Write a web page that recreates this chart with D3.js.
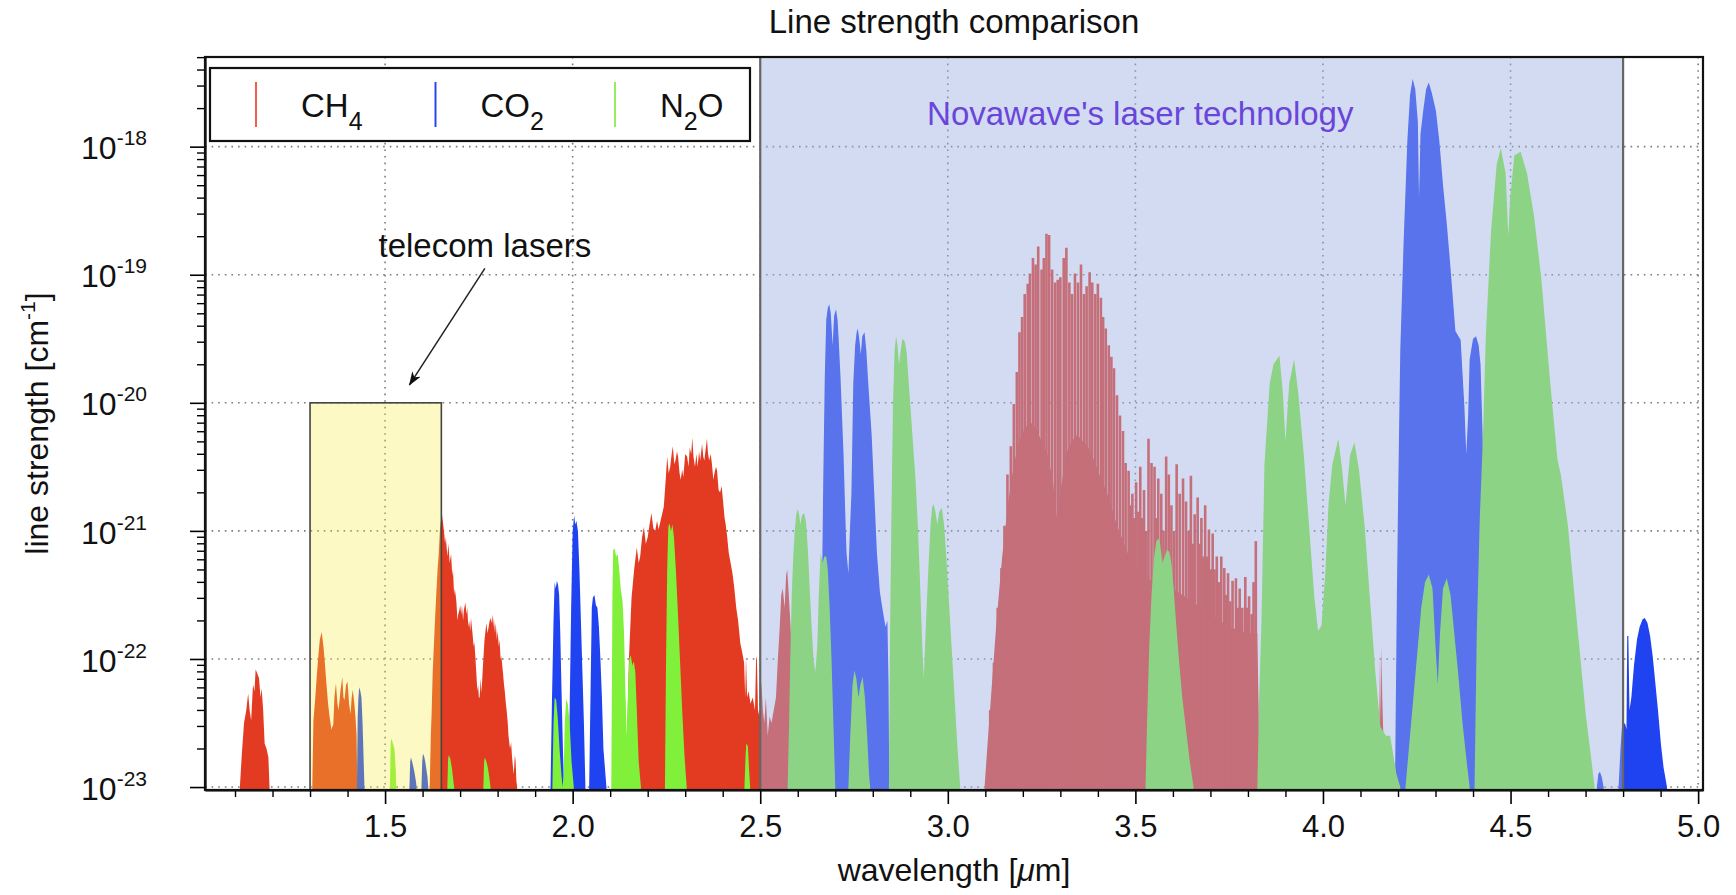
<!DOCTYPE html>
<html>
<head>
<meta charset="utf-8">
<script src="https://cdn.jsdelivr.net/npm/d3@7"></script>
<style>
  body { margin: 0; background: #fff; }
  text { font-family: "Liberation Sans", Arial, Helvetica, sans-serif; fill: #111; }
</style>
</head>
<body>
<svg id="chart" width="1736" height="895"></svg>
<script>
// ---- axis values ----
const xMajor = [1.5, 2.0, 2.5, 3.0, 3.5, 4.0, 4.5, 5.0];
const yDecades = [-23, -22, -21, -20, -19, -18];

// ---- bands: [wavelength (um), log10 line strength (cm^-1)] ----
// CH4
const ch4_113 = [[1.113,-23],[1.118,-22.75],[1.124,-22.5],[1.13,-22.4],[1.135,-22.27],[1.139,-22.4],[1.143,-22.48],[1.148,-22.2],[1.152,-22.25],[1.155,-22.08],[1.16,-22.12],[1.164,-22.15],[1.168,-22.3],[1.171,-22.23],[1.175,-22.4],[1.179,-22.66],[1.184,-22.7],[1.189,-22.77],[1.192,-23]];
const ch4_133 = [[1.306,-23],[1.309,-22.48],[1.314,-22.3],[1.319,-22.09],[1.323,-21.95],[1.326,-21.85],[1.331,-21.79],[1.336,-21.91],[1.34,-22.05],[1.343,-22.17],[1.348,-22.35],[1.352,-22.45],[1.357,-22.55],[1.362,-22.51],[1.365,-22.3],[1.369,-22.19],[1.373,-22.35],[1.376,-22.4],[1.381,-22.25],[1.386,-22.14],[1.389,-22.3],[1.392,-22.32],[1.396,-22.2],[1.4,-22.18],[1.404,-22.35],[1.408,-22.43],[1.411,-22.3],[1.414,-22.24],[1.418,-22.35],[1.421,-22.45],[1.424,-22.6],[1.426,-23]];
const ch4_165 = [[1.619,-23],[1.622,-22.6],[1.624,-22.43],[1.627,-22.1],[1.63,-21.9],[1.633,-21.7],[1.636,-21.52],[1.64,-21.3],[1.643,-21.18],[1.646,-21.0],[1.648,-20.94],[1.65,-20.9],[1.652,-20.88],[1.655,-20.95],[1.657,-21.0],[1.66,-21.1],[1.662,-21.05],[1.666,-21.2],[1.669,-21.1],[1.672,-21.25],[1.676,-21.18],[1.679,-21.35],[1.681,-21.3],[1.684,-21.5],[1.686,-21.45],[1.69,-21.55],[1.693,-21.7],[1.695,-21.65],[1.698,-21.62],[1.7,-21.58],[1.703,-21.65],[1.705,-21.58],[1.708,-21.7],[1.71,-21.62],[1.714,-21.56],[1.717,-21.65],[1.719,-21.6],[1.722,-21.75],[1.724,-21.7],[1.727,-21.78],[1.729,-21.68],[1.733,-21.8],[1.736,-21.9],[1.738,-21.87],[1.741,-22.0],[1.743,-22.1],[1.746,-22.25],[1.748,-22.2],[1.75,-22.3],[1.752,-22.3],[1.755,-22.15],[1.757,-22.27],[1.76,-22.1],[1.762,-22.0],[1.765,-21.85],[1.767,-21.8],[1.77,-21.72],[1.773,-21.8],[1.776,-21.75],[1.779,-21.7],[1.781,-21.68],[1.784,-21.72],[1.786,-21.65],[1.788,-21.75],[1.79,-21.68],[1.793,-21.8],[1.795,-21.72],[1.798,-21.85],[1.8,-21.78],[1.803,-21.9],[1.805,-21.85],[1.808,-22.0],[1.81,-21.98],[1.814,-22.1],[1.817,-22.2],[1.819,-22.25],[1.822,-22.35],[1.824,-22.4],[1.827,-22.5],[1.829,-22.6],[1.833,-22.7],[1.836,-22.65],[1.838,-22.75],[1.841,-22.85],[1.843,-22.9],[1.846,-22.75],[1.848,-22.8],[1.85,-22.95],[1.852,-23]];
const ch4_230 = [[2.138,-23],[2.141,-22.3],[2.143,-22.9],[2.15,-22.0],[2.157,-21.52],[2.164,-21.3],[2.171,-21.13],[2.176,-21.25],[2.18,-21.2],[2.185,-21.05],[2.19,-20.97],[2.195,-21.1],[2.2,-21.05],[2.205,-20.95],[2.21,-20.86],[2.215,-20.98],[2.22,-21.0],[2.225,-20.92],[2.229,-20.99],[2.236,-20.9],[2.243,-20.81],[2.248,-20.6],[2.252,-20.42],[2.256,-20.55],[2.26,-20.5],[2.264,-20.4],[2.267,-20.34],[2.271,-20.48],[2.274,-20.45],[2.278,-20.38],[2.281,-20.42],[2.285,-20.55],[2.288,-20.6],[2.292,-20.52],[2.295,-20.58],[2.3,-20.4],[2.305,-20.42],[2.309,-20.5],[2.312,-20.35],[2.316,-20.4],[2.319,-20.27],[2.322,-20.42],[2.326,-20.5],[2.33,-20.4],[2.333,-20.5],[2.337,-20.38],[2.34,-20.45],[2.345,-20.32],[2.348,-20.42],[2.351,-20.45],[2.355,-20.35],[2.358,-20.28],[2.361,-20.4],[2.364,-20.45],[2.368,-20.4],[2.371,-20.47],[2.375,-20.6],[2.378,-20.55],[2.382,-20.5],[2.385,-20.53],[2.389,-20.68],[2.393,-20.7],[2.397,-20.65],[2.401,-20.77],[2.405,-20.9],[2.408,-20.95],[2.412,-21.05],[2.416,-21.17],[2.421,-21.25],[2.426,-21.33],[2.431,-21.45],[2.436,-21.6],[2.441,-21.7],[2.447,-21.88],[2.452,-21.95],[2.457,-22.03],[2.46,-22.3],[2.462,-21.98],[2.465,-22.3],[2.469,-22.25],[2.474,-22.35],[2.48,-22.3],[2.486,-22.4],[2.489,-22.0],[2.491,-21.98],[2.494,-22.4],[2.498,-22.45],[2.503,-22.18],[2.507,-22.4],[2.511,-22.5],[2.515,-22.3],[2.52,-22.6],[2.525,-22.45],[2.53,-22.5],[2.536,-22.4],[2.542,-22.3],[2.547,-22.0],[2.552,-21.75],[2.556,-21.5],[2.56,-21.45],[2.565,-21.6],[2.569,-21.35],[2.572,-21.3],[2.576,-21.5],[2.58,-21.7],[2.585,-22.0],[2.59,-22.6],[2.595,-23]];
const ch4_330_base = [[3.098,-23],[3.105,-22.7],[3.115,-22.3],[3.13,-21.7],[3.145,-21.2],[3.16,-20.8],[3.175,-20.5],[3.19,-20.3],[3.205,-20.2],[3.22,-20.15],[3.235,-20.2],[3.25,-20.3],[3.265,-20.4],[3.28,-20.6],[3.29,-20.9],[3.3,-20.7],[3.315,-20.4],[3.33,-20.3],[3.345,-20.25],[3.36,-20.3],[3.375,-20.35],[3.39,-20.45],[3.41,-20.6],[3.43,-20.75],[3.45,-20.95],[3.47,-21.1],[3.49,-21.25],[3.52,-21.35],[3.55,-21.4],[3.6,-21.45],[3.65,-21.55],[3.7,-21.65],[3.75,-21.75],[3.8,-21.8],[3.825,-21.8],[3.832,-23]];
const ch4_330_lines = [[3.113,-22.4],[3.123,-22.03],[3.133,-21.6],[3.143,-21.29],[3.151,-20.96],[3.159,-20.56],[3.168,-20.34],[3.176,-20.01],[3.184,-19.76],[3.191,-19.45],[3.198,-19.33],[3.205,-19.15],[3.213,-19.07],[3.219,-18.99],[3.227,-18.87],[3.234,-18.92],[3.241,-18.78],[3.25,-18.96],[3.256,-18.87],[3.263,-18.68],[3.27,-18.69],[3.278,-18.96],[3.286,-19.06],[3.293,-19.04],[3.3,-19.02],[3.309,-18.87],[3.316,-18.79],[3.324,-19.06],[3.331,-19.15],[3.339,-18.99],[3.347,-19.06],[3.355,-18.92],[3.363,-19.15],[3.37,-19.09],[3.378,-18.98],[3.385,-19.06],[3.393,-19.15],[3.4,-19.07],[3.408,-19.18],[3.414,-19.33],[3.421,-19.42],[3.429,-19.55],[3.436,-19.64],[3.443,-19.73],[3.451,-19.94],[3.459,-20.1],[3.467,-20.22],[3.474,-20.47],[3.482,-20.53],[3.487,-20.8],[3.492,-20.71],[3.497,-20.9],[3.502,-20.62],[3.508,-20.85],[3.513,-20.5],[3.518,-20.9],[3.523,-20.68],[3.529,-21.0],[3.535,-20.28],[3.543,-20.47],[3.551,-20.5],[3.556,-20.9],[3.561,-20.59],[3.569,-20.71],[3.575,-21.0],[3.582,-20.42],[3.589,-20.56],[3.596,-20.8],[3.603,-21.0],[3.61,-20.48],[3.618,-20.71],[3.627,-20.59],[3.635,-20.77],[3.642,-21.0],[3.648,-20.57],[3.653,-21.1],[3.658,-20.87],[3.666,-20.74],[3.671,-21.1],[3.676,-20.9],[3.681,-21.2],[3.686,-20.8],[3.691,-21.2],[3.696,-20.99],[3.701,-21.3],[3.706,-21.02],[3.711,-21.3],[3.717,-21.2],[3.723,-21.4],[3.729,-21.2],[3.737,-21.29],[3.742,-21.5],[3.747,-21.33],[3.753,-21.55],[3.759,-21.39],[3.768,-21.37],[3.773,-21.6],[3.778,-21.45],[3.785,-21.6],[3.793,-21.36],[3.798,-21.6],[3.803,-21.51],[3.81,-21.65],[3.815,-21.4],[3.821,-21.08]];
const ch4_415 = [[4.148,-23],[4.15,-22.6],[4.152,-21.95],[4.154,-22.5],[4.156,-21.88],[4.158,-22.3],[4.161,-22.6],[4.163,-22.63],[4.165,-23]];

// CO2
const co2_143 = [[1.425,-23],[1.427,-22.45],[1.429,-22.3],[1.431,-22.22],[1.434,-22.25],[1.437,-22.3],[1.44,-22.5],[1.443,-22.8],[1.445,-23]];
const co2_157 = [[1.565,-23],[1.567,-22.8],[1.569,-22.77],[1.572,-22.8],[1.575,-22.84],[1.578,-22.88],[1.582,-22.95],[1.584,-23]];
const co2_160 = [[1.597,-23],[1.599,-22.8],[1.601,-22.74],[1.604,-22.76],[1.607,-22.8],[1.61,-22.86],[1.613,-22.92],[1.615,-23]];
const co2_196 = [[1.941,-23],[1.945,-22.3],[1.949,-21.7],[1.952,-21.4],[1.955,-21.45],[1.958,-21.39],[1.961,-21.42],[1.964,-21.5],[1.967,-21.8],[1.97,-22.2],[1.974,-22.7],[1.977,-23]];
const co2_201 = [[1.988,-23],[1.992,-22.4],[1.996,-21.6],[2.0,-21.0],[2.004,-20.88],[2.007,-20.95],[2.01,-20.92],[2.014,-21.0],[2.018,-21.3],[2.022,-21.7],[2.026,-22.1],[2.03,-22.5],[2.034,-23]];
const co2_206 = [[2.044,-23],[2.048,-22.2],[2.051,-21.6],[2.054,-21.52],[2.058,-21.5],[2.062,-21.58],[2.066,-21.6],[2.07,-21.75],[2.074,-22.0],[2.078,-22.3],[2.082,-22.7],[2.086,-22.85],[2.09,-23]];
const co2_270 = [[2.661,-23],[2.664,-21.6],[2.668,-20.6],[2.672,-19.8],[2.676,-19.35],[2.68,-19.26],[2.684,-19.23],[2.688,-19.3],[2.693,-19.55],[2.697,-19.32],[2.702,-19.27],[2.706,-19.35],[2.709,-19.5],[2.714,-19.8],[2.718,-20.1],[2.722,-20.4],[2.726,-20.8],[2.73,-21.17],[2.735,-21.33],[2.739,-21.0],[2.743,-20.71],[2.748,-19.85],[2.753,-19.55],[2.757,-19.45],[2.76,-19.42],[2.764,-19.5],[2.768,-19.62],[2.772,-19.48],[2.778,-19.45],[2.783,-19.6],[2.788,-19.85],[2.797,-20.25],[2.804,-20.71],[2.811,-21.17],[2.819,-21.48],[2.827,-21.63],[2.834,-21.75],[2.839,-21.7],[2.842,-22.2],[2.844,-23]];
const co2_430 = [[4.192,-23],[4.197,-21.5],[4.201,-20.59],[4.206,-19.6],[4.215,-18.74],[4.225,-17.95],[4.232,-17.6],[4.239,-17.47],[4.246,-17.55],[4.253,-17.81],[4.256,-18.4],[4.26,-17.9],[4.268,-17.7],[4.275,-17.55],[4.282,-17.5],[4.29,-17.58],[4.301,-17.72],[4.31,-17.95],[4.32,-18.3],[4.33,-18.6],[4.339,-18.91],[4.353,-19.44],[4.367,-19.51],[4.377,-20.03],[4.382,-20.4],[4.387,-20.1],[4.391,-19.66],[4.4,-19.5],[4.408,-19.48],[4.415,-19.55],[4.42,-19.7],[4.425,-20.2],[4.432,-21.0],[4.44,-22.0],[4.447,-23]];
const co2_474 = [[4.73,-23],[4.734,-22.9],[4.738,-22.88],[4.743,-22.92],[4.748,-23]];
const co2_485 = [[4.788,-23],[4.793,-22.7],[4.797,-22.53],[4.805,-22.5],[4.809,-22.55],[4.811,-21.82],[4.814,-21.82],[4.817,-22.4],[4.822,-22.3],[4.829,-22.05],[4.837,-21.85],[4.844,-21.75],[4.852,-21.69],[4.858,-21.68],[4.865,-21.72],[4.872,-21.82],[4.879,-21.98],[4.886,-22.19],[4.893,-22.4],[4.901,-22.67],[4.908,-22.85],[4.917,-23]];

// N2O
const n2o_152 = [[1.513,-23],[1.515,-22.65],[1.517,-22.62],[1.521,-22.66],[1.525,-22.7],[1.528,-22.85],[1.53,-23]];
const n2o_167 = [[1.666,-23],[1.668,-22.78],[1.67,-22.75],[1.674,-22.78],[1.678,-22.85],[1.682,-22.95],[1.684,-23]];
const n2o_177 = [[1.762,-23],[1.764,-22.8],[1.766,-22.77],[1.77,-22.8],[1.774,-22.85],[1.778,-22.93],[1.781,-23]];
const n2o_198 = [[1.946,-23],[1.949,-22.5],[1.952,-22.3],[1.956,-22.32],[1.96,-22.45],[1.965,-22.7],[1.97,-22.9],[1.973,-23],[1.976,-22.9],[1.979,-22.5],[1.983,-22.31],[1.987,-22.35],[1.992,-22.5],[1.997,-22.8],[2.003,-23]];
const n2o_211 = [[2.103,-23],[2.106,-21.5],[2.108,-21.15],[2.112,-21.14],[2.116,-21.2],[2.12,-21.18],[2.124,-21.3],[2.128,-21.45],[2.133,-21.55],[2.137,-21.8],[2.141,-22.3],[2.144,-22.6],[2.147,-22.3],[2.151,-22.0],[2.155,-21.97],[2.159,-22.05],[2.163,-22.02],[2.167,-22.1],[2.171,-22.4],[2.176,-22.8],[2.182,-23]];
const n2o_226 = [[2.246,-23],[2.249,-22.0],[2.252,-21.3],[2.255,-20.97],[2.258,-20.94],[2.262,-21.0],[2.266,-20.95],[2.27,-21.05],[2.275,-21.3],[2.28,-21.6],[2.286,-22.0],[2.292,-22.4],[2.298,-22.75],[2.304,-23]];
const n2o_247 = [[2.458,-23],[2.461,-22.75],[2.463,-22.66],[2.467,-22.68],[2.47,-22.85],[2.473,-23]];
const n2o_260 = [[2.573,-23],[2.577,-22.5],[2.58,-22.0],[2.584,-21.5],[2.588,-21.2],[2.592,-21.0],[2.596,-20.87],[2.6,-20.83],[2.604,-20.88],[2.607,-20.95],[2.611,-20.88],[2.617,-20.86],[2.622,-20.93],[2.627,-21.15],[2.632,-21.45],[2.637,-21.75],[2.642,-22.0],[2.647,-22.1],[2.652,-21.9],[2.656,-21.5],[2.661,-21.17],[2.666,-21.25],[2.671,-21.2],[2.676,-21.2],[2.68,-21.3],[2.685,-21.6],[2.69,-22.0],[2.695,-22.5],[2.7,-23]];
const n2o_277 = [[2.735,-23],[2.74,-22.6],[2.746,-22.2],[2.751,-22.09],[2.756,-22.15],[2.762,-22.3],[2.767,-22.2],[2.773,-22.14],[2.779,-22.3],[2.785,-22.6],[2.79,-22.9],[2.793,-23]];
const n2o_287 = [[2.843,-23],[2.846,-21.8],[2.85,-20.8],[2.854,-20.0],[2.858,-19.6],[2.862,-19.48],[2.866,-19.55],[2.87,-19.7],[2.874,-19.6],[2.879,-19.5],[2.885,-19.52],[2.89,-19.6],[2.896,-19.85],[2.902,-20.1],[2.908,-20.35],[2.914,-20.6],[2.92,-20.95],[2.926,-21.4],[2.932,-21.9],[2.936,-22.15],[2.942,-21.7],[2.948,-21.3],[2.954,-20.95],[2.958,-20.82],[2.962,-20.79],[2.967,-20.85],[2.972,-20.95],[2.977,-20.85],[2.984,-20.82],[2.99,-20.95],[2.996,-21.2],[3.002,-21.5],[3.008,-21.8],[3.014,-22.1],[3.02,-22.4],[3.026,-22.7],[3.033,-23]];
const n2o_357 = [[3.527,-23],[3.532,-22.4],[3.537,-21.9],[3.543,-21.5],[3.55,-21.2],[3.556,-21.08],[3.561,-21.06],[3.566,-21.1],[3.572,-21.25],[3.578,-21.2],[3.584,-21.15],[3.59,-21.16],[3.596,-21.25],[3.602,-21.45],[3.608,-21.7],[3.616,-22.0],[3.625,-22.3],[3.635,-22.55],[3.645,-22.8],[3.655,-23]];
const n2o_390 = [[3.825,-23],[3.83,-22.3],[3.836,-21.71],[3.844,-20.48],[3.858,-19.85],[3.868,-19.7],[3.884,-19.63],[3.893,-19.92],[3.9,-20.3],[3.91,-19.85],[3.923,-19.66],[3.934,-19.92],[3.949,-20.41],[3.963,-20.96],[3.977,-21.52],[3.987,-21.78],[3.996,-21.74],[4.006,-21.34],[4.015,-20.78],[4.025,-20.48],[4.041,-20.28],[4.051,-20.52],[4.06,-20.8],[4.072,-20.41],[4.084,-20.31],[4.096,-20.52],[4.111,-20.96],[4.125,-21.52],[4.139,-22.08],[4.153,-22.53],[4.168,-22.6],[4.179,-22.6],[4.196,-22.9],[4.206,-23]];
const n2o_430 = [[4.22,-23],[4.235,-22.5],[4.25,-22.0],[4.262,-21.6],[4.272,-21.4],[4.282,-21.34],[4.292,-21.45],[4.3,-21.9],[4.306,-22.2],[4.312,-21.8],[4.32,-21.45],[4.33,-21.37],[4.34,-21.5],[4.35,-21.8],[4.36,-22.1],[4.372,-22.5],[4.383,-22.8],[4.391,-23]];
const n2o_450 = [[4.404,-23],[4.41,-21.8],[4.418,-20.9],[4.426,-20.3],[4.434,-19.48],[4.448,-18.66],[4.463,-18.14],[4.474,-18.01],[4.487,-18.21],[4.494,-18.7],[4.499,-18.4],[4.51,-18.07],[4.527,-18.04],[4.544,-18.21],[4.563,-18.55],[4.582,-19.03],[4.606,-19.85],[4.625,-20.44],[4.634,-20.56],[4.653,-20.96],[4.677,-21.71],[4.701,-22.45],[4.716,-22.8],[4.724,-23]];

// highlighted wavelength ranges (um)
const telecomRange = [1.3, 1.65];
const telecomTop = -20;
const novawaveRange = [2.5, 4.8];

const species = [
  { label: "CH", sub: "4", tail: "", color: "#e33b22", key: "#f0604a",
    bands: [ch4_113, ch4_133, ch4_165, ch4_230, ch4_330_base, ch4_415], lines: ch4_330_lines },
  { label: "CO", sub: "2", tail: "", color: "#1f43f0", key: "#2a45f0",
    bands: [co2_143, co2_157, co2_160, co2_196, co2_201, co2_206, co2_270, co2_430, co2_474, co2_485], lines: [] },
  { label: "N", sub: "2", tail: "O", color: "#80f03a", key: "#95ee60",
    bands: [n2o_152, n2o_167, n2o_177, n2o_198, n2o_211, n2o_226, n2o_247, n2o_260, n2o_277, n2o_287, n2o_357, n2o_390, n2o_430, n2o_450], lines: [] }
];

// ---- layout ----
const plotL = 205, plotR = 1703, plotT = 57, plotB = 790;
const x = d3.scaleLinear().domain([1.02, 5.013]).range([plotL, plotR]);
const y = d3.scaleLog().domain([10 ** -23.023, 10 ** -17.3]).range([plotB, plotT]);
const S = v => y(10 ** v);

const svg = d3.select("#chart");
const defs = svg.append("defs");

defs.append("clipPath").attr("id", "plotclip")
  .append("rect").attr("x", plotL).attr("y", plotT).attr("width", plotR - plotL).attr("height", plotB - plotT);

// grid
const grid = svg.append("g").attr("stroke", "#7c7c7c").attr("stroke-width", 1.6).attr("stroke-dasharray", "1.6,5");
grid.selectAll(".gy").data(yDecades).join("line").attr("class", "gy")
  .attr("x1", plotL).attr("x2", plotR).attr("y1", d => S(d)).attr("y2", d => S(d));
grid.selectAll(".gx").data(xMajor).join("line").attr("class", "gx")
  .attr("x1", d => x(d)).attr("x2", d => x(d)).attr("y1", plotT).attr("y2", plotB);

// spectra
const area = d3.area().x(d => x(d[0])).y0(plotB).y1(d => S(d[1]));
const spectra = svg.append("g").attr("clip-path", "url(#plotclip)");
species.forEach(sp => {
  const g = spectra.append("g");
  g.selectAll("path").data(sp.bands).join("path")
    .attr("d", area).attr("fill", sp.color);
  g.selectAll("line").data(sp.lines).join("line")
    .attr("x1", d => x(d[0])).attr("x2", d => x(d[0]))
    .attr("y1", plotB).attr("y2", d => S(d[1]))
    .attr("stroke", sp.color).attr("stroke-width", 2.6);
});

// Novawave region
svg.append("rect")
  .attr("x", x(novawaveRange[0])).attr("width", x(novawaveRange[1]) - x(novawaveRange[0]))
  .attr("y", plotT).attr("height", plotB - plotT)
  .attr("fill", "rgb(157,175,228)").attr("fill-opacity", 0.45);
svg.append("g").selectAll("line").data(novawaveRange).join("line")
  .attr("x1", d => x(d)).attr("x2", d => x(d)).attr("y1", plotT).attr("y2", plotB)
  .attr("stroke", "#666").attr("stroke-width", 2.2);

// telecom box
svg.append("rect")
  .attr("x", x(telecomRange[0])).attr("width", x(telecomRange[1]) - x(telecomRange[0]))
  .attr("y", S(telecomTop)).attr("height", plotB - S(telecomTop))
  .attr("fill", "rgb(245,235,60)").attr("fill-opacity", 0.3)
  .attr("stroke", "#444").attr("stroke-width", 1.6);

// axes
const xAxis = svg.append("g").attr("transform", `translate(0,${plotB})`)
  .call(d3.axisBottom(x).tickValues(xMajor).tickFormat(d3.format(".1f")).tickSize(14).tickSizeOuter(0));
xAxis.select(".domain").attr("stroke-width", 2.2);
xAxis.selectAll(".tick line").attr("stroke-width", 1.6);
xAxis.selectAll(".tick text").attr("font-size", 31).attr("y", 25).attr("fill", "#111");

const xMinor = d3.range(11, 50).filter(i => i % 5 !== 0).map(i => i / 10);
svg.append("g").attr("transform", `translate(0,${plotB})`)
  .call(d3.axisBottom(x).tickValues(xMinor).tickFormat("").tickSize(7).tickSizeOuter(0))
  .call(g => g.select(".domain").remove())
  .selectAll(".tick line").attr("stroke-width", 1.4);

const yAxis = svg.append("g").attr("transform", `translate(${plotL},0)`)
  .call(d3.axisLeft(y).tickValues(yDecades.map(d => 10 ** d)).tickSize(15).tickSizeOuter(0));
yAxis.select(".domain").attr("stroke-width", 2.2);
yAxis.selectAll(".tick line").attr("stroke-width", 1.6);
yAxis.selectAll(".tick text")
  .attr("font-size", 32).attr("x", -58).attr("dy", "0.38em").attr("fill", "#111")
  .text(null)
  .each(function (d) {
    const t = d3.select(this);
    t.append("tspan").text("10");
    t.append("tspan").attr("font-size", 21).attr("dy", -14).text(Math.round(Math.log10(d)));
  });

const yMinor = y.ticks().filter(v => Math.abs(Math.log10(v) - Math.round(Math.log10(v))) > 1e-6);
svg.append("g").attr("transform", `translate(${plotL},0)`)
  .call(d3.axisLeft(y).tickValues(yMinor).tickFormat("").tickSize(8).tickSizeOuter(0))
  .call(g => g.select(".domain").remove())
  .selectAll(".tick line").attr("stroke-width", 1.4);

// frame
svg.append("rect").attr("x", plotL).attr("y", plotT).attr("width", plotR - plotL).attr("height", plotB - plotT)
  .attr("fill", "none").attr("stroke", "#111").attr("stroke-width", 2.2);

// title and axis labels
svg.append("text").attr("x", (plotL + plotR) / 2).attr("y", 33).attr("text-anchor", "middle")
  .attr("font-size", 33).text("Line strength comparison");

const xl = svg.append("text").attr("x", (plotL + plotR) / 2).attr("y", 881).attr("text-anchor", "middle")
  .attr("font-size", 32);
xl.append("tspan").text("wavelength [");
xl.append("tspan").attr("font-style", "italic").text("\u03bc");
xl.append("tspan").text("m]");

const yl = svg.append("text").attr("transform", `translate(48,${(plotT + plotB) / 2}) rotate(-90)`)
  .attr("text-anchor", "middle").attr("font-size", 32);
yl.append("tspan").text("line strength [cm");
yl.append("tspan").attr("font-size", 21).attr("dy", -13).text("-1");
yl.append("tspan").attr("dy", 13).text("]");

// annotations
svg.append("text").attr("x", x(3.513)).attr("y", S(-17.83)).attr("text-anchor", "middle")
  .attr("font-size", 33).style("fill", "#6a45da").text("Novawave's laser technology");

svg.append("text").attr("x", x(1.766)).attr("y", S(-18.86)).attr("text-anchor", "middle")
  .attr("font-size", 33).text("telecom lasers");

defs.append("marker").attr("id", "arrow")
  .attr("viewBox", "0 0 14 10").attr("refX", 13).attr("refY", 5)
  .attr("markerWidth", 14).attr("markerHeight", 10).attr("markerUnits", "userSpaceOnUse")
  .attr("orient", "auto")
  .append("path").attr("d", "M0,0 L14,5 L0,10 L4,5 Z").attr("fill", "#111");
svg.append("line")
  .attr("x1", x(1.766)).attr("y1", S(-18.95)).attr("x2", x(1.565)).attr("y2", S(-19.86))
  .attr("stroke", "#222").attr("stroke-width", 1.5).attr("marker-end", "url(#arrow)");

// legend
const lg = svg.append("g");
lg.append("rect").attr("x", 210).attr("y", 68).attr("width", 540).attr("height", 73)
  .attr("fill", "#fff").attr("stroke", "#111").attr("stroke-width", 2.2);
const item = lg.selectAll(".item").data(species).join("g").attr("class", "item")
  .attr("transform", (d, i) => `translate(${256 + i * 179.5},0)`);
item.append("line").attr("x1", 0).attr("x2", 0).attr("y1", 82).attr("y2", 127)
  .attr("stroke", d => d.key).attr("stroke-width", 2);
const lt = item.append("text").attr("x", 45).attr("y", 117).attr("font-size", 33);
lt.append("tspan").text(d => d.label);
lt.append("tspan").attr("font-size", 25).attr("dy", 13).text(d => d.sub);
lt.append("tspan").attr("dy", -13).text(d => d.tail);
</script>
</body>
</html>
